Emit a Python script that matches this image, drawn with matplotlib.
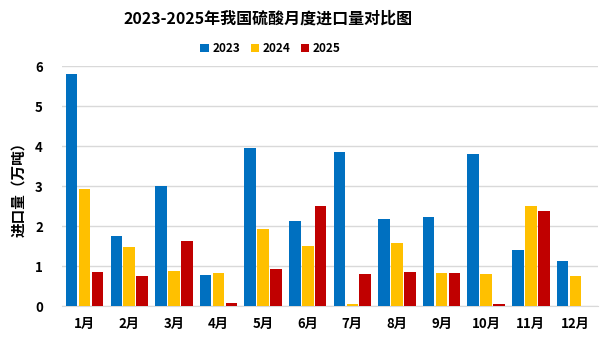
import numpy as np
import matplotlib
matplotlib.use("Agg")
import matplotlib.pyplot as plt

plt.rcParams['font.family'] = ['Noto Sans CJK SC', 'DejaVu Sans']

months = ['1月', '2月', '3月', '4月', '5月', '6月', '7月', '8月', '9月', '10月', '11月', '12月']
years = ['2023', '2024', '2025']
v2023 = [5.8, 1.75, 3.0, 0.78, 3.95, 2.13, 3.85, 2.18, 2.23, 3.8, 1.4, 1.13]
v2024 = [2.93, 1.48, 0.88, 0.83, 1.93, 1.5, 0.05, 1.58, 0.83, 0.8, 2.5, 0.75]
v2025 = [0.85, 0.75, 1.63, 0.08, 0.93, 2.5, 0.8, 0.85, 0.83, 0.05, 2.38, np.nan]
colors = ['#0070C0', '#FFC000', '#C00000']

fig = plt.figure(figsize=(6.05, 3.4), dpi=100)
ax = fig.add_axes([0.103, 0.1, 0.885, 0.705])

x = np.arange(len(months))
w = 0.26
step = 0.29
for i, (vals, c, lab) in enumerate(zip([v2023, v2024, v2025], colors, years)):
    ax.bar(x + (i - 1) * step, vals, width=w, color=c, label=lab, zorder=3)

ax.set_xlim(-0.5, 11.5)
ax.set_ylim(0, 6)
ax.set_yticks(range(7))
ax.yaxis.grid(True, color='#D9D9D9', linewidth=1, zorder=0)
for s in ['top', 'right', 'left']:
    ax.spines[s].set_visible(False)
ax.spines['bottom'].set_color('#D9D9D9')
ax.tick_params(axis='both', length=0, labelsize=9.5)
ax.tick_params(axis='y', pad=14)
ax.tick_params(axis='x', pad=8)
ax.set_xticks(x)
ax.set_xticklabels(months, fontweight='bold')
for t in ax.get_yticklabels():
    t.set_fontweight('bold')
ax.set_ylabel('进口量（万吨）', fontsize=10.5, fontweight='bold', labelpad=6)

# title and legend sit left of centre in the original
fig.text(0.443, 0.945, '2023-2025年我国硫酸月度进口量对比图', fontsize=11.5,
         fontweight='bold', ha='center', va='center')
fig.legend(loc='center', bbox_to_anchor=(0.447, 0.857), ncol=3, frameon=False,
           prop={'weight': 'bold', 'size': 8.5}, handlelength=0.7, handleheight=0.7,
           columnspacing=0.9, handletextpad=0.3)

fig.savefig('out.png', dpi=100)
